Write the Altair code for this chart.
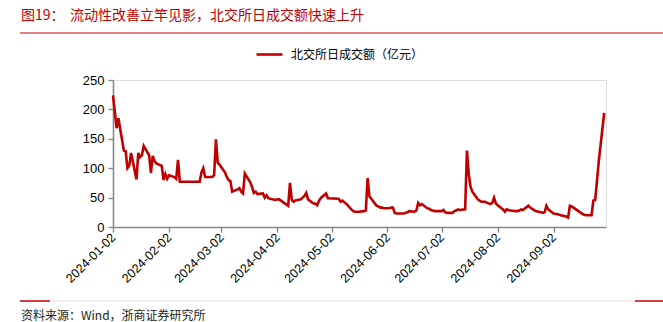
import altair as alt
import pandas as pd

# ---- data (trading days by month, value in 亿元) ----
jan_days = [2, 3, 4, 5, 8, 9, 10, 11, 12, 15, 16, 17, 18, 19, 22, 23, 24, 25, 26, 29, 30, 31]
jan_vals = [224, 196, 168, 185, 130, 129, 100, 104, 126, 81, 126, 119, 122, 138, 122, 92, 121, 112, 108, 104, 80, 90]
feb_days = [1, 2, 5, 6, 7, 8, 19, 20, 21, 22, 23, 26, 27, 28, 29]
feb_vals = [82, 88, 85, 82, 114, 77, 77, 93, 100, 85, 85, 85, 88, 149, 109]
mar_days = [1, 4, 5, 6, 7, 8, 11, 12, 13, 14, 15, 18, 19, 20, 21, 22, 25, 26, 27, 28, 29]
mar_vals = [106, 93, 85, 80, 78, 60, 64, 66, 60, 57, 91, 76, 68, 58, 60, 56, 57, 50, 54, 49, 48]
apr_days = [1, 2, 3, 8, 9, 10, 11, 12, 15, 16, 17, 18, 19, 22, 23, 24, 25, 26, 29, 30]
apr_vals = [46, 47, 47, 36, 75, 46, 43, 45, 47, 50, 53, 58, 47, 40, 40, 37, 44, 49, 57, 49]
may_days = [6, 7, 8, 9, 10, 13, 14, 15, 16, 17, 20, 21, 22, 23, 24, 27, 28, 29, 30, 31]
may_vals = [48, 43, 45, 42, 40, 30, 27, 26, 26, 26, 27, 28, 83, 52, 48, 36, 35, 33, 33, 32]
jun_days = [3, 4, 5, 6, 7, 11, 12, 13, 14, 17, 18, 19, 20, 21, 24, 25, 26, 27, 28]
jun_vals = [32, 33, 33, 24, 23, 23, 24, 25, 27, 26, 28, 41, 37, 39, 32, 31, 29, 28, 27]
jul_days = [1, 2, 3, 4, 5, 8, 9, 10, 11, 12, 15, 16, 17, 18, 19, 22, 23, 24, 25, 26, 29, 30, 31]
jul_vals = [27, 27, 29, 25, 24, 24, 27, 28, 30, 29, 30, 130, 90, 68, 60, 47, 45, 43, 43, 43, 39, 41, 50]
aug_days = [1, 2, 5, 6, 7, 8, 9, 12, 13, 14, 15, 16, 19, 20, 21, 22, 23, 26, 27, 28, 29, 30]
aug_vals = [40, 37, 30, 26, 30, 29, 28, 27, 27, 28, 30, 29, 36, 33, 31, 29, 27, 25, 24, 25, 36, 30]
sep_days = [2, 3, 4, 5, 6, 9, 10, 11, 12, 13, 18, 19, 20, 23, 24, 25, 26, 27, 30]
sep_vals = [23, 22, 22, 21, 20, 18, 16, 36, 35, 33, 22, 21, 20, 20, 45, 46, 78, 112, 194]

tick_labels = ["2024-01-02", "2024-02-02", "2024-03-02", "2024-04-02", "2024-05-02",
               "2024-06-02", "2024-07-02", "2024-08-02", "2024-09-02"]
series_name = "北交所日成交额（亿元）"
title_num = "图19："
title_text = "流动性改善立竿见影，北交所日成交额快速上升"
source_text = "资料来源：Wind，浙商证券研究所"

months = [(1, jan_days, jan_vals), (2, feb_days, feb_vals), (3, mar_days, mar_vals),
          (4, apr_days, apr_vals), (5, may_days, may_vals), (6, jun_days, jun_vals),
          (7, jul_days, jul_vals), (8, aug_days, aug_vals), (9, sep_days, sep_vals)]
rows = []
for m, ds, vs in months:
    for d, v in zip(ds, vs):
        rows.append({"date": f"2024-{m:02d}-{d:02d}", "value": v, "series": series_name})
df = pd.DataFrame(rows)

RED = "#c00000"
CJK = "Noto Sans CJK SC"
W, H = 493, 147

tick_vals = [alt.DateTime(year=int(t[:4]), month=int(t[5:7]), date=int(t[8:]), utc=True) for t in tick_labels]

line = alt.Chart(df).mark_line(strokeWidth=2.6, color=RED).encode(
    x=alt.X("date:T",
            scale=alt.Scale(type="utc",
                            domain=[alt.DateTime(year=2024, month=1, date=2, utc=True),
                                    alt.DateTime(year=2024, month=10, date=1, utc=True)]),
            axis=alt.Axis(values=tick_vals, labelExpr="utcFormat(datum.value, '%Y-%m-%d')",
                          title=None,
                          labelAngle=315, labelAlign="right", labelBaseline="middle",
                          labelPadding=3, labelFont="Liberation Sans", labelFontSize=12.5,
                          labelColor="#000", tickColor="#888", domainColor="#888",
                          domainWidth=1.6, tickWidth=1.4, tickSize=5, grid=False,
                          labelOverlap=False, labelFlush=False)),
    y=alt.Y("value:Q", scale=alt.Scale(domain=[0, 250]),
            axis=alt.Axis(values=[0, 50, 100, 150, 200, 250], title=None, grid=False,
                          labelFont="Liberation Sans", labelFontSize=13, labelColor="#000",
                          tickColor="#888", domainColor="#888", domainWidth=1.6,
                          tickWidth=1.4, tickSize=5, labelPadding=4)),
    color=alt.Color("series:N", scale=alt.Scale(range=[RED]),
                    legend=alt.Legend(title=None, orient="none", legendX=142, legendY=-40,
                                      symbolType="stroke", symbolSize=676,
                                      symbolStrokeWidth=2.6, labelFont=CJK,
                                      labelFontSize=12, labelColor="#000",
                                      labelOffset=7)),
)

one = alt.Data(values=[{"a": 1}])

def txt(s, x, y, size, color, font=CJK):
    return alt.Chart(one).mark_text(align="left", baseline="middle", font=font,
                                    fontSize=size, color=color).encode(
        x=alt.value(x), y=alt.value(y), text=alt.value(s))

def hrule(x1, x2, y, color, w):
    return alt.Chart(one).mark_rule(color=color, strokeWidth=w).encode(
        x=alt.value(x1), x2=alt.value(x2), y=alt.value(y))

layers = [
    line,
    txt(title_num, -92, -64, 14, RED),
    txt(title_text, -43, -64, 14, RED),
    hrule(-93, 550, -47, RED, 1),
    hrule(-63, 522, 221, "#f4dede", 1),
    hrule(-93, -63, 221, RED, 1.5),
    hrule(522, 550, 221, RED, 1.5),
    txt(source_text, -92, 236, 12, "#222"),
]

chart = alt.layer(*layers).properties(
    width=W, height=H,
    autosize=alt.AutoSizeParams(type="none"),
    padding={"left": 113, "top": 80, "right": 57, "bottom": 95},
).configure_view(stroke=None).configure(background="white")

chart.save("out.html", embed_options={"renderer": "svg", "actions": False})
